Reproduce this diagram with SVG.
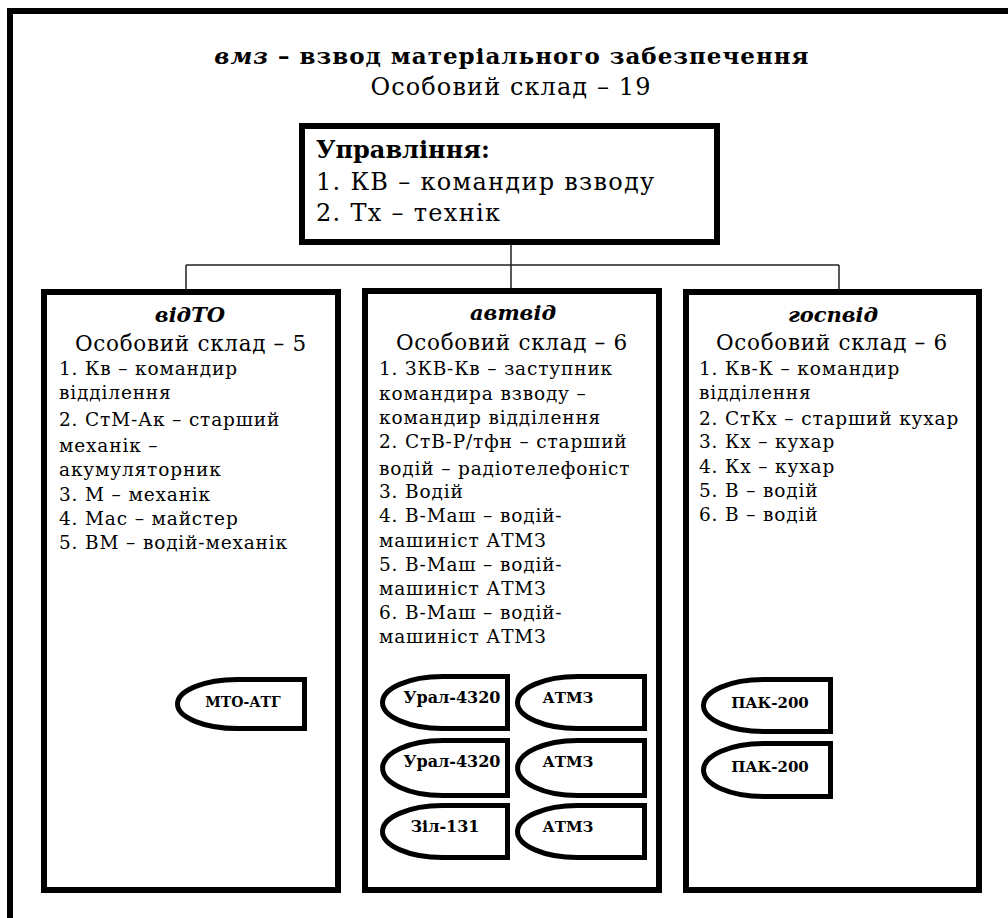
<svg xmlns="http://www.w3.org/2000/svg" width="1008" height="918" viewBox="0 0 1008 918">
<defs>
<style>
text{font-family:"DejaVu Serif","Liberation Serif",serif;fill:#000}
.frame{fill:none;stroke:#000;stroke-width:6}
.box{fill:#fff;stroke:#000;stroke-width:6}
.veh{fill:#fff;stroke:#000;stroke-width:5}
.conn{fill:none;stroke:#222;stroke-width:1.5}
.title{font-size:23px;font-weight:bold;letter-spacing:1px}
.sub{font-size:24px;letter-spacing:1.1px}
.mh{font-size:24px;font-weight:bold}
.mi{font-size:24px;letter-spacing:1.3px}
.ch{font-size:21px;font-weight:bold;font-style:italic}
.cs{font-size:21.5px;letter-spacing:0.7px}
.li{font-size:18.5px;letter-spacing:0.85px}
.vl{font-size:15px;font-weight:bold}
.vb{font-size:16px;font-weight:bold}
.vs{font-size:14px;font-weight:bold}
</style>
</defs>
<rect x="0" y="0" width="1008" height="918" fill="#fff"/>
<g id="frame">
<path class="frame" d="M10,918 V11 H1008"/>
</g>
<g id="title">
<text class="title" x="512" y="64" text-anchor="middle"><tspan font-style="italic">вмз</tspan> – взвод матеріального забезпечення</text>
<text class="sub" x="511" y="95" text-anchor="middle">Особовий склад – 19</text>
</g>
<g id="connectors">
<path class="conn" d="M511,242 V290 M186,265 H839 M186,265 V290 M839,265 V290"/>
</g>
<g id="management">
<rect class="box" x="302" y="126" width="415" height="116"/>
<text class="mh" x="316" y="158">Управління:</text>
<text class="mi" x="316" y="190">1. КВ – командир взводу</text>
<text class="mi" x="316" y="221">2. Тх – технік</text>
</g>
<g id="vidTO">
<rect class="box" x="44" y="292" width="294" height="598"/>
<text class="ch" x="190" y="322" text-anchor="middle">відТО</text>
<text class="cs" x="191" y="351" text-anchor="middle">Особовий склад – 5</text>
<text class="li" x="59" y="375">1. Кв – командир</text>
<text class="li" x="59" y="399">відділення</text>
<text class="li" x="59" y="426">2. СтМ-Ак – старший</text>
<text class="li" x="59" y="452">механік –</text>
<text class="li" x="59" y="476">акумуляторник</text>
<text class="li" x="59" y="501">3. М – механік</text>
<text class="li" x="59" y="525">4. Мас – майстер</text>
<text class="li" x="59" y="549">5. ВМ – водій-механік</text>
</g>
<g id="mto-atg">
<path class="veh" d="M304.5,679.5 H237.5 A60,24.5 0 0 0 237.5,728.5 H304.5 Z"/>
<text class="vs" x="243" y="707" text-anchor="middle">МТО-АТГ</text>
</g>
<g id="avtvid">
<rect class="box" x="365" y="291" width="294" height="599"/>
<text class="ch" x="513" y="320" text-anchor="middle">автвід</text>
<text class="cs" x="512" y="350" text-anchor="middle">Особовий склад – 6</text>
<text class="li" x="379" y="375">1. ЗКВ-Кв – заступник</text>
<text class="li" x="379" y="400">командира взводу –</text>
<text class="li" x="379" y="424">командир відділення</text>
<text class="li" x="379" y="448">2. СтВ-Р/тфн – старший</text>
<text class="li" x="379" y="475">водій – радіотелефоніст</text>
<text class="li" x="379" y="498">3. Водій</text>
<text class="li" x="379" y="522">4. В-Маш – водій-</text>
<text class="li" x="379" y="547">машиніст АТМЗ</text>
<text class="li" x="379" y="571">5. В-Маш – водій-</text>
<text class="li" x="379" y="595">машиніст АТМЗ</text>
<text class="li" x="379" y="619">6. В-Маш – водій-</text>
<text class="li" x="379" y="643">машиніст АТМЗ</text>
</g>
<g id="ural1">
<path class="veh" d="M507.5,676.5 H442.5 A60,26 0 0 0 442.5,728.5 H507.5 Z"/>
<text class="vb" x="452" y="703" text-anchor="middle">Урал-4320</text>
</g>
<g id="atmz1">
<path class="veh" d="M644.5,676.5 H577.5 A60,26 0 0 0 577.5,728.5 H644.5 Z"/>
<text class="vl" x="568" y="703" text-anchor="middle">АТМЗ</text>
</g>
<g id="ural2">
<path class="veh" d="M507.5,740.5 H442.5 A60,27.5 0 0 0 442.5,795.5 H507.5 Z"/>
<text class="vb" x="452" y="767" text-anchor="middle">Урал-4320</text>
</g>
<g id="atmz2">
<path class="veh" d="M644.5,740.5 H577.5 A60,27.5 0 0 0 577.5,795.5 H644.5 Z"/>
<text class="vl" x="568" y="767" text-anchor="middle">АТМЗ</text>
</g>
<g id="zil131">
<path class="veh" d="M507.5,805.5 H442.5 A60,26 0 0 0 442.5,857.5 H507.5 Z"/>
<text class="vb" x="445" y="832" text-anchor="middle">Зіл-131</text>
</g>
<g id="atmz3">
<path class="veh" d="M644.5,805.5 H577.5 A60,26 0 0 0 577.5,857.5 H644.5 Z"/>
<text class="vl" x="568" y="832" text-anchor="middle">АТМЗ</text>
</g>
<g id="gospvid">
<rect class="box" x="686" y="292" width="293" height="598"/>
<text class="ch" x="833" y="322" text-anchor="middle">госпвід</text>
<text class="cs" x="832" y="350" text-anchor="middle">Особовий склад – 6</text>
<text class="li" x="699" y="375">1. Кв-К – командир</text>
<text class="li" x="699" y="399">відділення</text>
<text class="li" x="699" y="425">2. СтКх – старший кухар</text>
<text class="li" x="699" y="448">3. Кх – кухар</text>
<text class="li" x="699" y="473">4. Кх – кухар</text>
<text class="li" x="699" y="497">5. В – водій</text>
<text class="li" x="699" y="521">6. В – водій</text>
</g>
<g id="pak1">
<path class="veh" d="M830.5,679.5 H763.5 A60,26 0 0 0 763.5,731.5 H830.5 Z"/>
<text class="vl" x="770" y="708" text-anchor="middle">ПАК-200</text>
</g>
<g id="pak2">
<path class="veh" d="M830.5,743.5 H763.5 A60,26.5 0 0 0 763.5,796.5 H830.5 Z"/>
<text class="vl" x="770" y="772" text-anchor="middle">ПАК-200</text>
</g>
</svg>
